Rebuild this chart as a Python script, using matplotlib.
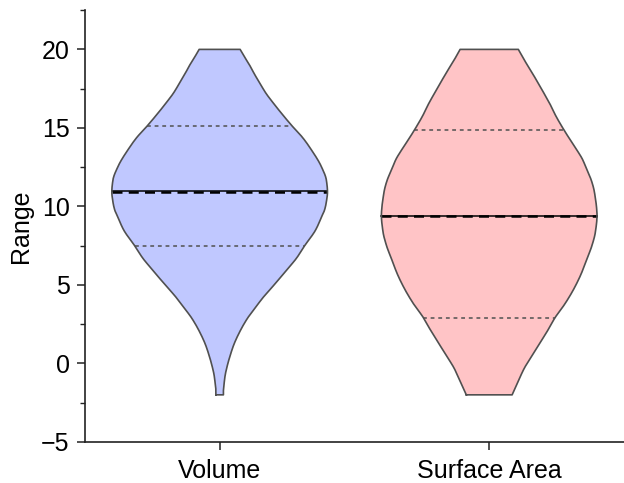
import numpy as np
import matplotlib
matplotlib.use("Agg")
import matplotlib.pyplot as plt
from matplotlib.ticker import MultipleLocator

plt.rcParams['font.family'] = ['Liberation Sans', 'DejaVu Sans']

categories = ["Volume", "Surface Area"]
positions = [1, 2]

# violin outlines: value level and half width (x units)
vol_y = [-2.0, -1.7, -1.37, -0.8, -0.1, 0.5, 1.17, 2.0, 2.87, 3.5, 4.24, 5.1,
         5.94, 6.7, 7.49, 8.5, 9.45, 9.76, 10.3, 10.92, 11.67, 12.51, 13.79,
         14.4, 15.1, 16.0, 16.65, 17.2, 17.82, 18.4, 19.0, 19.5, 20.0]
vol_w = [0.014, 0.014, 0.016, 0.020, 0.029, 0.039, 0.052, 0.074, 0.103, 0.130,
         0.163, 0.207, 0.248, 0.285, 0.315, 0.356, 0.381, 0.389, 0.396, 0.400,
         0.396, 0.378, 0.333, 0.307, 0.270, 0.226, 0.196, 0.172, 0.150, 0.130,
         0.111, 0.093, 0.076]

sa_y = [-2.0, -1.2, -0.31, 0.5, 1.38, 2.1, 2.91, 3.8, 4.78, 5.7, 6.68, 7.5,
        8.38, 9.44, 9.97, 10.5, 11.03, 11.7, 12.3, 13.0, 13.57, 14.2, 14.85,
        15.8, 16.5, 17.18, 17.9, 18.66, 19.3, 20.0]
sa_w = [0.085, 0.106, 0.130, 0.159, 0.191, 0.217, 0.244, 0.281, 0.315, 0.341,
        0.363, 0.381, 0.394, 0.400, 0.398, 0.394, 0.389, 0.378, 0.363, 0.346,
        0.326, 0.302, 0.278, 0.246, 0.226, 0.204, 0.180, 0.154, 0.131, 0.108]

medians = [10.95, 9.42]
q1 = [7.49, 2.91]
q3 = [15.12, 14.85]

profiles = [(vol_y, vol_w), (sa_y, sa_w)]
fills = ["#C0C8FF", "#FFC4C6"]
edge = "#505050"


def smooth_outline(y, w, n=400):
    # monotone cubic (pchip) through the read points, only for drawing
    y = np.asarray(y, float)
    w = np.asarray(w, float)
    h = np.diff(y)
    d = np.diff(w) / h
    m = np.zeros_like(w)
    for k in range(1, len(w) - 1):
        if d[k - 1] * d[k] > 0:
            w1 = 2 * h[k] + h[k - 1]
            w2 = h[k] + 2 * h[k - 1]
            m[k] = (w1 + w2) / (w1 / d[k - 1] + w2 / d[k])
    m[0], m[-1] = d[0], d[-1]
    yy = np.linspace(y[0], y[-1], n)
    idx = np.clip(np.searchsorted(y, yy) - 1, 0, len(h) - 1)
    t = (yy - y[idx]) / h[idx]
    h00 = 2 * t**3 - 3 * t**2 + 1
    h10 = t**3 - 2 * t**2 + t
    h01 = -2 * t**3 + 3 * t**2
    h11 = t**3 - t**2
    ww = (h00 * w[idx] + h10 * h[idx] * m[idx] + h01 * w[idx + 1]
          + h11 * h[idx] * m[idx + 1])
    return yy, ww


fig = plt.figure(figsize=(6.24, 4.83), dpi=100)
ax = fig.add_axes([0.136, 0.085, 0.864, 0.894])

for pos, (ys, ws), col, med, lo, hi in zip(positions, profiles, fills, medians, q1, q3):
    yy, ww = smooth_outline(ys, ws)
    ax.fill_betweenx(yy, pos - ww, pos + ww, facecolor=col, edgecolor="none", zorder=1)
    ox = np.concatenate([pos - ww, (pos + ww)[::-1], [pos - ww[0]]])
    oy = np.concatenate([yy, yy[::-1], [yy[0]]])
    ax.plot(ox, oy, color=edge, lw=1.2, zorder=3)
    for q in (lo, hi):
        w = np.interp(q, yy, ww)
        ax.plot([pos - w, pos + w], [q, q], color=edge, lw=1.1,
                dashes=(2.5, 2.5), zorder=2)
    w = np.interp(med, yy, ww)
    ax.plot([pos - w, pos + w], [med, med], color="black", lw=1.1, zorder=2)
    ax.plot([pos - w, pos + w], [med - 0.06, med - 0.06], color="black", lw=1.8,
            dashes=(4, 2.5), zorder=2)

ax.set_xlim(0.5, 2.5)
ax.set_ylim(-5, 22.5)
ax.set_xticks(positions)
ax.set_xticklabels(categories)
ax.yaxis.set_major_locator(MultipleLocator(5))
ax.yaxis.set_minor_locator(MultipleLocator(2.5))
ax.set_ylabel("Range", fontsize=18, labelpad=6)

for s in ["top", "right"]:
    ax.spines[s].set_visible(False)
for s in ["left", "bottom"]:
    ax.spines[s].set_linewidth(1.2)
    ax.spines[s].set_color("#222222")

ax.tick_params(axis="both", which="major", length=6, width=1.1, labelsize=18,
               direction="out", colors="#222222", labelcolor="black")
ax.tick_params(axis="y", which="minor", length=3.5, width=1.0, colors="#222222")
ax.tick_params(axis="x", pad=6)
ax.tick_params(axis="y", pad=5)

fig.savefig("out.png", dpi=100)
